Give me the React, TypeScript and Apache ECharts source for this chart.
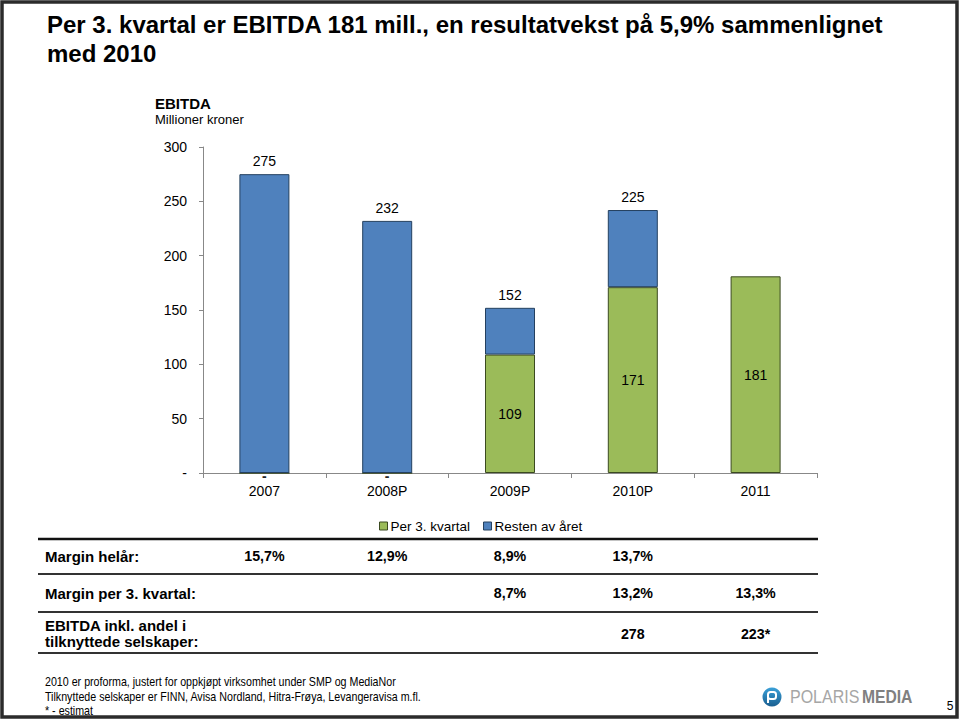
import React, { useEffect, useRef } from "react";
import * as echarts from "echarts";

const categories = ["2007", "2008P", "2009P", "2010P", "2011"];
const perQ3 = [0, 0, 109, 171, 181];
const restOfYear = [275, 232, 43, 71, null];
const totalLabels = ["275", "232", "152", "225", ""];
const yTicks = [0, 50, 100, 150, 200, 250, 300];

const marginFullYear = ["15,7%", "12,9%", "8,9%", "13,7%", ""];
const marginQ3 = ["", "", "8,7%", "13,2%", "13,3%"];
const ebitdaIncl = ["", "", "", "278", "223*"];

const footnotes = [
  "2010 er proforma, justert for oppkjøpt virksomhet under SMP og MediaNor",
  "Tilknyttede selskaper er FINN, Avisa Nordland, Hitra-Frøya, Levangeravisa m.fl.",
  "* - estimat",
];

const FONT = "'Liberation Sans', Arial, sans-serif";
const BLUE = "#4f81bd";
const GREEN = "#9bbb59";

export default function App() {
  const ref = useRef<HTMLDivElement>(null);
  useEffect(() => {
    if (!ref.current) return;
    const chart = echarts.init(ref.current, undefined, { renderer: "svg" });

    const gridLeft = 203;
    const gridRight = 817;
    const catW = (gridRight - gridLeft) / categories.length;
    const colX = (i: number) => gridLeft + catW * (i + 0.5);

    const graphics: any[] = [];
    // page frame
    graphics.push({
      type: "rect",
      shape: { x: 2, y: 2, width: 955, height: 715 },
      style: { fill: "none", stroke: "#2b2b2b", lineWidth: 3.5 },
      silent: true,
    });
    // title
    ["Per 3. kvartal er EBITDA 181 mill., en resultatvekst på 5,9% sammenlignet", "med 2010"].forEach((t, i) => {
      graphics.push({
        type: "text",
        x: 47,
        y: 24 + i * 29,
        style: {
          text: t,
          font: `bold 24px ${FONT}`,
          fill: "#000",
          textAlign: "left",
          textVerticalAlign: "middle",
        },
      });
    });
    // subtitle
    graphics.push({
      type: "text",
      x: 155,
      y: 103,
      style: { text: "EBITDA", font: `bold 15px ${FONT}`, fill: "#000", textVerticalAlign: "middle" },
    });
    graphics.push({
      type: "text",
      x: 155,
      y: 119,
      style: { text: "Millioner kroner", font: `13px ${FONT}`, fill: "#000", textVerticalAlign: "middle" },
    });
    // table lines
    [539, 574, 612, 653].forEach((y, i) => {
      graphics.push({
        type: "line",
        shape: { x1: 38, y1: y, x2: 818, y2: y },
        style: { stroke: i === 0 ? "#111" : "#333", lineWidth: i === 0 ? 2.5 : 2 },
        silent: true,
      });
    });
    const rowLabel = (text: string, y: number) =>
      graphics.push({
        type: "text",
        x: 45,
        y,
        style: { text, font: `bold 15px ${FONT}`, fill: "#000", textVerticalAlign: "middle" },
      });
    rowLabel("Margin helår:", 556);
    rowLabel("Margin per 3. kvartal:", 593);
    rowLabel("EBITDA inkl. andel i", 625);
    rowLabel("tilknyttede selskaper:", 641);
    const rowValues = (vals: string[], y: number) =>
      vals.forEach((v, i) => {
        if (!v) return;
        graphics.push({
          type: "text",
          x: colX(i),
          y,
          scaleX: 0.95,
          style: { text: v, font: `bold 15px ${FONT}`, fill: "#000", textAlign: "center", textVerticalAlign: "middle" },
        });
      });
    rowValues(marginFullYear, 556);
    rowValues(marginQ3, 593);
    rowValues(ebitdaIncl, 634);
    // footnotes
    footnotes.forEach((t, i) => {
      graphics.push({
        type: "text",
        x: 45,
        y: 682 + i * 14.5,
        scaleX: 0.89,
        style: { text: t, font: `12px ${FONT}`, fill: "#000", textVerticalAlign: "middle" },
      });
    });
    // logo
    graphics.push({
      type: "circle",
      shape: { cx: 772, cy: 697, r: 9.5 },
      style: {
        fill: new echarts.graphic.LinearGradient(0, 0, 0, 1, [
          { offset: 0, color: "#3aa0d8" },
          { offset: 1, color: "#1a5f90" },
        ]),
      },
    });
    graphics.push({
      type: "rect",
      shape: { x: 768, y: 692, width: 8, height: 7, r: 2.5 },
      style: { fill: "none", stroke: "#fff", lineWidth: 2 },
    });
    graphics.push({
      type: "line",
      shape: { x1: 768, y1: 694, x2: 768, y2: 703 },
      style: { stroke: "#fff", lineWidth: 2 },
    });
    graphics.push({
      type: "text",
      x: 790,
      y: 697,
      scaleX: 0.89,
      style: { text: "POLARIS", font: `18px ${FONT}`, fill: "#a6a6a6", textVerticalAlign: "middle" },
    });
    graphics.push({
      type: "text",
      x: 862,
      y: 697,
      scaleX: 0.87,
      style: { text: "MEDIA", font: `bold 18px ${FONT}`, fill: "#808080", textVerticalAlign: "middle" },
    });
    graphics.push({
      type: "text",
      x: 950,
      y: 706,
      style: { text: "5", font: `12px ${FONT}`, fill: "#000", textAlign: "center", textVerticalAlign: "middle" },
    });

    const option: any = {
      animation: false,
      backgroundColor: "#fff",
      textStyle: { fontFamily: FONT },
      grid: { left: gridLeft, right: 960 - gridRight, top: 147, bottom: 247, containLabel: false },
      legend: {
        left: 374,
        top: 514,
        itemWidth: 8,
        itemHeight: 8,
        itemGap: 13,
        icon: "rect",
        textStyle: { fontSize: 13.5, color: "#000", fontFamily: FONT, padding: [0, 0, 0, -2] },
        data: [
          { name: "Per 3. kvartal", itemStyle: { borderColor: "#3b4a20", borderWidth: 1 } },
          { name: "Resten av året", itemStyle: { borderColor: "#24405f", borderWidth: 1 } },
        ],
      },
      xAxis: {
        type: "category",
        data: categories,
        axisLine: { lineStyle: { color: "#888", width: 1 } },
        axisTick: { show: true, length: 5, lineStyle: { color: "#888" } },
        axisLabel: { fontSize: 14, color: "#000", margin: 11, fontFamily: FONT },
      },
      yAxis: {
        type: "value",
        min: yTicks[0],
        max: yTicks[yTicks.length - 1],
        interval: 50,
        splitLine: { show: false },
        axisLine: { show: true, lineStyle: { color: "#888", width: 1 } },
        axisTick: { show: true, length: 4, lineStyle: { color: "#888" } },
        axisLabel: {
          fontSize: 14,
          color: "#000",
          margin: 16,
          fontFamily: FONT,
          formatter: (v: number) => (v === 0 ? "-" : String(v)),
        },
      },
      series: [
        {
          name: "Per 3. kvartal",
          type: "bar",
          stack: "total",
          barWidth: 50,
          data: perQ3,
          itemStyle: { color: GREEN, borderColor: "#3b4a20", borderWidth: 1 },
          label: {
            show: true,
            position: "inside",
            fontSize: 14,
            color: "#000",
            fontFamily: FONT,
            formatter: (p: any) => (p.value === 0 ? "" : String(p.value)),
          },
        },
        {
          name: "Resten av året",
          type: "bar",
          stack: "total",
          barWidth: 50,
          data: restOfYear,
          itemStyle: { color: BLUE, borderColor: "#24405f", borderWidth: 1 },
          label: {
            show: true,
            position: "top",
            distance: 6,
            fontSize: 14,
            color: "#000",
            fontFamily: FONT,
            formatter: (p: any) => totalLabels[p.dataIndex] || "",
          },
        },
        {
          name: "zeroMarks",
          type: "bar",
          stack: "zero",
          barWidth: 50,
          barGap: "-100%",
          data: perQ3.map((v) => (v === 0 ? 0 : null)),
          itemStyle: { color: "transparent" },
          silent: true,
          label: {
            show: true,
            position: "bottom",
            distance: -4,
            fontSize: 14,
            fontWeight: "bold",
            color: "#222",
            fontFamily: FONT,
            formatter: (p: any) => (p.value === 0 ? "-" : ""),
          },
        },
      ],
      graphic: graphics,
    };
    chart.setOption(option);
    return () => chart.dispose();
  }, []);
  return (
    <div
      ref={ref}
      style={{ position: "absolute", left: 0, top: 0, width: 960, height: 720, background: "#fff" }}
    />
  );
}
